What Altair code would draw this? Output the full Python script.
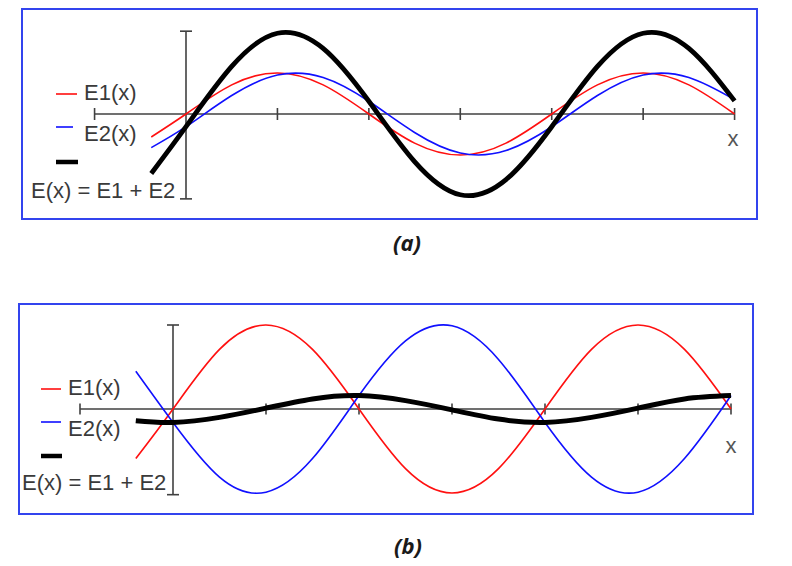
import altair as alt
import pandas as pd

# ---------------- data ----------------
# panel (a): two waves almost in phase
XA = [-0.38, 0, 0.5, 1, 1.5, 2, 2.5, 3, 3.5, 4, 4.5, 5, 5.5, 6]
E1A = [-0.56, 0, 0.71, 1, 0.71, 0, -0.71, -1, -0.71, 0, 0.71, 1, 0.71, 0]
E2A = [-0.82, -0.31, 0.45, 0.95, 0.89, 0.31, -0.45, -0.95, -0.89, -0.31, 0.45, 0.95, 0.89, 0.35]
EA = [-1.45, -0.31, 1.16, 1.97, 1.6, 0.31, -1.16, -1.97, -1.6, -0.31, 1.16, 1.97, 1.6, 0.32]

# panel (b): two waves almost in opposition
XB = [-0.4, 0, 0.5, 1, 1.5, 2, 2.5, 3, 3.5, 4, 4.5, 5, 5.5, 6]
E1B = [-0.59, 0, 0.71, 1, 0.71, 0, -0.71, -1, -0.71, 0, 0.71, 1, 0.71, 0]
E2B = [0.45, -0.16, -0.81, -0.99, -0.59, 0.16, 0.81, 0.99, 0.59, -0.16, -0.81, -0.99, -0.59, 0.16]
EB = [-0.14, -0.16, -0.10, 0.01, 0.12, 0.16, 0.10, -0.01, -0.12, -0.16, -0.10, 0.01, 0.12, 0.16]

TICKS = [-1, 1, 2, 3, 4, 5, 6]
LABELS = ["E1(x)", "E2(x)", "E(x) = E1 + E2"]
CAPTIONS = ["(a)", "(b)"]

RED = "#ff1010"
BLUE = "#1010ff"
BLACK = "#000000"
AXC = "#404040"
TXT = "#3a3a3a"
BOX = "#3344ee"
FONT = "Liberation Sans"

W, H = 738, 210


def scl(d):
    return alt.Scale(domain=d, nice=False, zero=False)


def curve(xs, ys, color, width, xd, yd):
    df = pd.DataFrame({"x": xs, "y": ys})
    return alt.Chart(df).mark_line(
        color=color, strokeWidth=width, interpolate="natural"
    ).encode(
        x=alt.X("x:Q", scale=scl(xd), axis=None),
        y=alt.Y("y:Q", scale=scl(yd), axis=None),
    )


def one():
    return alt.Data(values=[{"k": 1}])


def prule(x1, x2, y, color, width):
    return alt.Chart(one()).mark_rule(color=color, strokeWidth=width).encode(
        x=alt.value(x1), x2=alt.value(x2), y=alt.value(y)
    )


def ptext(txt, x, y, size, color, align="left", weight="normal", style="normal", font=FONT):
    return alt.Chart(one()).mark_text(
        text=txt, align=align, baseline="middle", fontSize=size, color=color,
        font=font, fontWeight=weight, fontStyle=style
    ).encode(x=alt.value(x), y=alt.value(y))


def axes(xd, yd, ytop, ybot, th, cw):
    hx = pd.DataFrame({"x": [TICKS[0]], "x2": [TICKS[-1]], "y": [0]})
    hline = alt.Chart(hx).mark_rule(color=AXC, strokeWidth=1.6).encode(
        x=alt.X("x:Q", scale=scl(xd), axis=None), x2="x2:Q",
        y=alt.Y("y:Q", scale=scl(yd), axis=None))
    vx = pd.DataFrame({"x": [0], "y": [ybot], "y2": [ytop]})
    vline = alt.Chart(vx).mark_rule(color=AXC, strokeWidth=1.6).encode(
        x=alt.X("x:Q", scale=scl(xd), axis=None),
        y=alt.Y("y:Q", scale=scl(yd), axis=None), y2="y2:Q")
    tk = pd.DataFrame({"x": TICKS, "y": [-th] * len(TICKS), "y2": [th] * len(TICKS)})
    ticks = alt.Chart(tk).mark_rule(color=AXC, strokeWidth=1.6).encode(
        x=alt.X("x:Q", scale=scl(xd), axis=None),
        y=alt.Y("y:Q", scale=scl(yd), axis=None), y2="y2:Q")
    cp = pd.DataFrame({"x": [-cw, -cw], "x2": [cw, cw], "y": [ytop, ybot]})
    caps = alt.Chart(cp).mark_rule(color=AXC, strokeWidth=1.6).encode(
        x=alt.X("x:Q", scale=scl(xd), axis=None), x2="x2:Q",
        y=alt.Y("y:Q", scale=scl(yd), axis=None))
    return [hline, vline, ticks, caps]


def box(x1, x2):
    return alt.Chart(one()).mark_rect(filled=False, stroke=BOX, strokeWidth=2).encode(
        x=alt.value(x1), x2=alt.value(x2), y=alt.value(0), y2=alt.value(H))


# ---------------- panel (a) ----------------
xdA = [-167 / 91.43, (W - 167) / 91.43]
ydA = [-105 / 41, 105 / 41]
panelA = alt.layer(
    box(3, W),
    *axes(xdA, ydA, 2.02, -2.07, 6 / 41, 6 / 91.43),
    curve(XA, E1A, RED, 1.6, xdA, ydA),
    curve(XA, E2A, BLUE, 1.6, xdA, ydA),
    curve(XA, EA, BLACK, 4.8, xdA, ydA),
    prule(37, 58, 85, RED, 1.6),
    prule(37, 54, 118, BLUE, 1.6),
    prule(37, 59, 153, BLACK, 4.5),
    ptext(LABELS[0], 65, 83.5, 22, TXT),
    ptext(LABELS[1], 65, 125, 22, TXT),
    ptext(LABELS[2], 12, 182, 22, TXT),
    ptext("x", 714, 130, 22, "#555555", align="center"),
    ptext(CAPTIONS[0], 388, 235, 22, "#1a1a1a", align="center", weight="bold",
          style="italic", font="Open Sans"),
).properties(width=W, height=H)

# ---------------- panel (b) ----------------
xdB = [-154 / 93.0, (W - 154) / 93.0]
ydB = [-105 / 84, 105 / 84]
panelB = alt.layer(
    box(0, W - 4),
    *axes(xdB, ydB, 1.0, -1.02, 5.5 / 84, 6 / 93.0),
    curve(XB, E1B, RED, 1.6, xdB, ydB),
    curve(XB, E2B, BLUE, 1.6, xdB, ydB),
    curve(XB, EB, BLACK, 5, xdB, ydB),
    prule(22, 42, 85, RED, 1.6),
    prule(22, 42, 118, BLUE, 1.6),
    prule(22, 43, 152, BLACK, 4.5),
    ptext(LABELS[0], 49, 84, 22, TXT),
    ptext(LABELS[1], 49, 125, 22, TXT),
    ptext(LABELS[2], 3, 179, 22, TXT),
    ptext("x", 712, 142, 22, "#555555", align="center"),
    ptext(CAPTIONS[1], 389, 243, 22, "#1a1a1a", align="center", weight="bold",
          style="italic", font="Open Sans"),
).properties(width=W, height=H)

chart = alt.vconcat(
    panelA, panelB, spacing=85, bounds="flush",
    padding={"left": 10, "top": 0, "right": 0, "bottom": 40},
).configure_view(stroke=None)

chart.save("out.html", embed_options={"renderer": "svg", "actions": False})
